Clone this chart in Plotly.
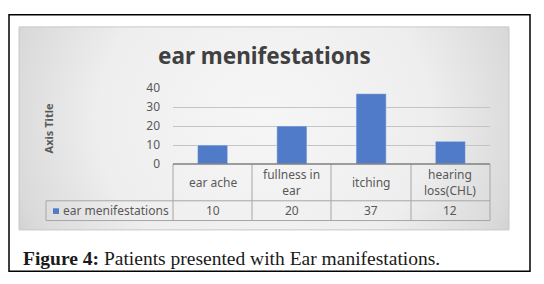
import plotly.graph_objects as go
import base64

categories = ["ear ache", "fullness in ear", "itching", "hearing loss(CHL)"]
category_labels = ["ear ache", "fullness in<br>ear", "itching", "hearing<br>loss(CHL)"]
values = [10, 20, 37, 12]
series_name = "ear menifestations"
y_ticks = [0, 10, 20, 30, 40]
chart_title = "ear menifestations"
axis_title = "Axis Title"
caption_bold = "Figure 4:"
caption_text = "Patients presented with Ear manifestations."

W, H = 544, 284
BAR = "#4f7bc8"
TXT = "#595959"
GRID = "#c4c4c4"
TBL = "#a6a6a6"
FONT = "Noto Sans"


def px(x):
    return x / W


def py(y):
    return 1 - y / H


svg = (
    '<svg xmlns="http://www.w3.org/2000/svg" width="490" height="216" viewBox="0 0 490 216">'
    '<defs><radialGradient id="g" cx="0.5" cy="0.45" r="0.62" gradientTransform="translate(0.5 0.45) scale(1 2.2) translate(-0.5 -0.45)">'
    '<stop offset="0" stop-color="#f6f6f6"/><stop offset="0.55" stop-color="#eeeeee"/>'
    '<stop offset="0.85" stop-color="#d9d9d9"/><stop offset="1" stop-color="#c4c4c4"/></radialGradient></defs>'
    '<rect width="490" height="216" fill="url(#g)"/></svg>'
)
bg_uri = "data:image/svg+xml;base64," + base64.b64encode(svg.encode()).decode()

fig = go.Figure()
fig.add_trace(go.Bar(x=categories, y=values, name=series_name, marker_color=BAR,
                     width=0.38, showlegend=False))

shapes = []
# outer frame
shapes.append(dict(type="rect", xref="paper", yref="paper", x0=px(9), x1=px(530),
                   y0=py(279), y1=py(6), line=dict(color="black", width=1.5)))
# chart area edge
shapes.append(dict(type="rect", xref="paper", yref="paper", x0=px(19), x1=px(509),
                   y0=py(235), y1=py(19), line=dict(color="#c8c8c8", width=1), layer="below"))
# table lines
col_edges = [173, 252, 331, 411, 490]
for xe in col_edges:
    shapes.append(dict(type="line", xref="paper", yref="paper", x0=px(xe), x1=px(xe),
                       y0=py(165), y1=py(225), line=dict(color=TBL, width=1)))
shapes.append(dict(type="line", xref="paper", yref="paper", x0=px(46), x1=px(46),
                   y0=py(204), y1=py(225), line=dict(color=TBL, width=1)))
for ye in [204, 225]:
    shapes.append(dict(type="line", xref="paper", yref="paper", x0=px(46), x1=px(490),
                       y0=py(ye), y1=py(ye), line=dict(color=TBL, width=1)))
# axis baseline
shapes.append(dict(type="line", xref="paper", yref="paper", x0=px(173), x1=px(490),
                   y0=py(165), y1=py(165), line=dict(color="#7f7f7f", width=1.5)))
# legend key
shapes.append(dict(type="rect", xref="paper", yref="paper", x0=px(53), x1=px(59),
                   y0=py(218), y1=py(212), fillcolor=BAR, line=dict(width=0)))

annotations = []
for cat, lab, v in zip(categories, category_labels, values):
    annotations.append(dict(x=cat, xref="x", y=py(184.5), yref="paper", text=lab,
                            showarrow=False, xanchor="center", yanchor="middle",
                            font=dict(family=FONT, size=12, color=TXT)))
    annotations.append(dict(x=cat, xref="x", y=py(214.5), yref="paper", text=str(v),
                            showarrow=False, xanchor="center", yanchor="middle",
                            font=dict(family=FONT, size=12, color=TXT)))
annotations.append(dict(x=px(61), xref="paper", y=py(214.5), yref="paper", text=series_name,
                        showarrow=False, xanchor="left", yanchor="middle",
                        font=dict(family=FONT, size=12, color=TXT)))
annotations.append(dict(x=px(264), xref="paper", y=py(49), yref="paper",
                        text="<b>" + chart_title + "</b>", showarrow=False,
                        xanchor="center", yanchor="middle",
                        font=dict(family=FONT, size=22.5, color="#404040")))
annotations.append(dict(x=px(48), xref="paper", y=py(127), yref="paper",
                        text="<b>" + axis_title + "</b>", showarrow=False, textangle=-90,
                        xanchor="center", yanchor="middle",
                        font=dict(family=FONT, size=11, color=TXT)))
annotations.append(dict(x=px(21), xref="paper", y=py(265), yref="paper",
                        text="<b>" + caption_bold + "</b> " + caption_text, showarrow=False,
                        xanchor="left", yanchor="middle",
                        font=dict(family="Liberation Serif", size=19.5, color="#1a1a1a")))

fig.update_layout(
    width=W, height=H, margin=dict(l=0, r=0, t=0, b=0),
    paper_bgcolor="white", plot_bgcolor="rgba(0,0,0,0)",
    shapes=shapes, annotations=annotations,
    images=[dict(source=bg_uri, xref="paper", yref="paper", x=px(19), y=py(19),
                 sizex=px(509) - px(19), sizey=(235 - 19) / H, sizing="stretch",
                 layer="below", xanchor="left", yanchor="top")],
    xaxis=dict(domain=[px(173), px(490)], type="category", range=[-0.5, 3.5],
               showticklabels=False, showgrid=False, zeroline=False, showline=False),
    yaxis=dict(domain=[py(165), py(84)], range=[0, 40], tickvals=y_ticks,
               showgrid=True, gridcolor=GRID, gridwidth=1, zeroline=False, showline=False,
               ticks="", ticklabelstandoff=12,
               tickfont=dict(family=FONT, size=12, color=TXT)),
)

fig.write_html("out.html", config={"displayModeBar": False},
               post_script="document.body.style.margin='0px';")
